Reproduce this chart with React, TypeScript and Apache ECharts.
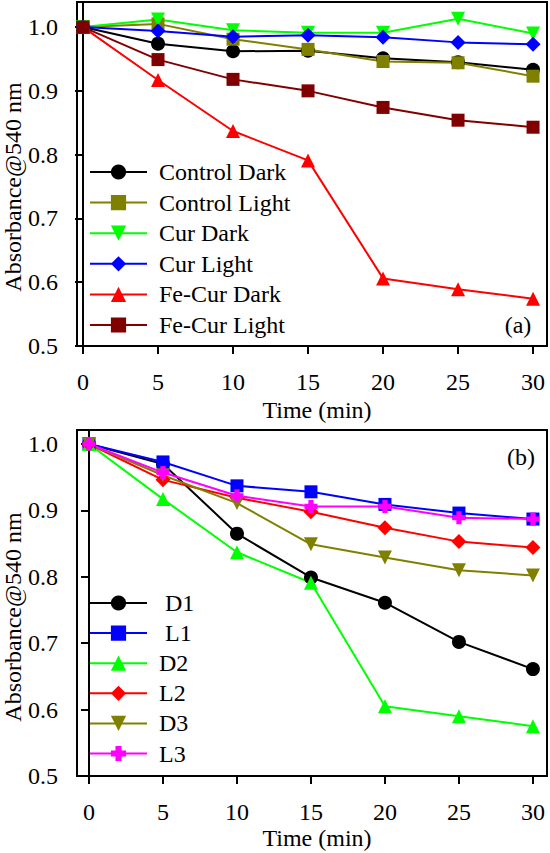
import React, { useEffect, useRef } from "react";
import * as echarts from "echarts";

const times = [0, 5, 10, 15, 20, 25, 30];
const xTicks = [0, 5, 10, 15, 20, 25, 30];
const yTicks = [0.5, 0.6, 0.7, 0.8, 0.9, 1.0];

// Panel (a)
const controlDark = [1.0, 0.974, 0.962, 0.963, 0.951, 0.945, 0.933];
const controlLight = [1.0, 1.005, 0.981, 0.965, 0.946, 0.944, 0.923];
const curDark = [1.0, 1.012, 0.995, 0.991, 0.991, 1.013, 0.99];
const curLight = [1.0, 0.994, 0.985, 0.987, 0.984, 0.976, 0.973];
const feCurDark = [1.0, 0.917, 0.837, 0.791, 0.606, 0.589, 0.574];
const feCurLight = [1.0, 0.949, 0.918, 0.9, 0.874, 0.854, 0.843];

// Panel (b)
const d1 = [1.0, 0.97, 0.865, 0.799, 0.761, 0.702, 0.661];
const l1 = [1.0, 0.973, 0.937, 0.928, 0.909, 0.896, 0.887];
const d2 = [1.0, 0.917, 0.837, 0.791, 0.605, 0.59, 0.575];
const l2 = [1.0, 0.946, 0.919, 0.898, 0.874, 0.853, 0.844];
const d3 = [1.0, 0.953, 0.911, 0.849, 0.829, 0.81, 0.802];
const l3 = [1.0, 0.957, 0.922, 0.906, 0.906, 0.889, 0.887];

const FONT = "Liberation Serif";
const PLUS = "path://M3,0L7,0L7,3L10,3L10,7L7,7L7,10L3,10L3,7L0,7L0,3L3,3Z";

function mk(
  name: string,
  values: number[],
  color: string,
  symbol: string,
  size: number,
  idx: number,
  rotate = 0
) {
  return {
    type: "line",
    name,
    xAxisIndex: idx,
    yAxisIndex: idx,
    data: times.map((t, i) => [t, values[i]]),
    symbol,
    symbolSize: size,
    symbolRotate: rotate,
    showSymbol: true,
    lineStyle: { color, width: 2 },
    itemStyle: { color },
    emphasis: { disabled: true },
  };
}

function xAxis(idx: number, min: number, max: number) {
  return {
    type: "value",
    gridIndex: idx,
    min,
    max,
    axisLine: { show: true, lineStyle: { color: "#000", width: 2 } },
    axisTick: { show: true, length: 8, lineStyle: { color: "#000", width: 2 }, customValues: xTicks },
    axisLabel: { fontFamily: FONT, fontSize: 24, color: "#000", margin: 24, customValues: xTicks },
    splitLine: { show: false },
  };
}

function yAxis(idx: number, min: number, max: number) {
  return {
    type: "value",
    gridIndex: idx,
    min,
    max,
    axisLine: { show: true, lineStyle: { color: "#000", width: 2 } },
    axisTick: { show: true, length: 8, lineStyle: { color: "#000", width: 2 }, customValues: yTicks },
    axisLabel: {
      fontFamily: FONT,
      fontSize: 24,
      color: "#000",
      margin: 19,
      customValues: yTicks,
      formatter: (v: number) => v.toFixed(1),
    },
    splitLine: { show: false },
  };
}

function legend(top: number, names: string[], gap: number) {
  return {
    orient: "vertical",
    left: 89,
    top,
    padding: 0,
    itemWidth: 57,
    itemHeight: 19,
    itemGap: gap,
    data: names,
    textStyle: { fontFamily: FONT, fontSize: 24, color: "#000", lineHeight: 24, padding: [0, 0, 0, 7] },
    selectedMode: false,
  };
}

function txt(text: string, x: number, y: number, rot = 0) {
  return {
    type: "text",
    x,
    y,
    rotation: rot,
    silent: true,
    style: {
      text,
      font: `24px "${FONT}"`,
      fill: "#000",
      textAlign: "center",
      textVerticalAlign: "middle",
    },
  };
}

export default function App() {
  const ref = useRef<HTMLDivElement>(null);
  useEffect(() => {
    if (!ref.current) return;
    const chart = echarts.init(ref.current, null, { renderer: "svg" });
    const topNames = ["Control Dark", "Control Light", "Cur Dark", "Cur Light", "Fe-Cur Dark", "Fe-Cur Light"];
    const botNames = [" D1", " L1", "D2", "L2", "D3", "L3"];
    chart.setOption({
      animation: false,
      backgroundColor: "#fff",
      grid: [
        { left: 77, top: 2, width: 470, height: 344, show: true, borderColor: "#000", borderWidth: 2, backgroundColor: "transparent" },
        { left: 77, top: 430, width: 470, height: 346, show: true, borderColor: "#000", borderWidth: 2, backgroundColor: "transparent" },
      ],
      xAxis: [xAxis(0, -0.4, 30.93), xAxis(1, -0.81, 30.95)],
      yAxis: [yAxis(0, 0.5, 1.0393), yAxis(1, 0.5, 1.0211)],
      legend: [legend(160, topNames, 6.6), legend(591, botNames, 6.1)],
      series: [
        mk(topNames[0], controlDark, "#000000", "circle", 14, 0),
        mk(topNames[1], controlLight, "#808000", "rect", 13, 0),
        mk(topNames[2], curDark, "#00ff00", "triangle", 14, 0, 180),
        mk(topNames[3], curLight, "#0000ff", "diamond", 15, 0),
        mk(topNames[4], feCurDark, "#ff0000", "triangle", 14, 0),
        mk(topNames[5], feCurLight, "#800000", "rect", 13, 0),
        mk(botNames[0], d1, "#000000", "circle", 14, 1),
        mk(botNames[1], l1, "#0000ff", "rect", 13, 1),
        mk(botNames[2], d2, "#00ff00", "triangle", 14, 1),
        mk(botNames[3], l2, "#ff0000", "diamond", 15, 1),
        mk(botNames[4], d3, "#808000", "triangle", 14, 1, 180),
        mk(botNames[5], l3, "#ff00ff", PLUS, 13, 1),
      ],
      graphic: [
        txt("Absorbance@540 nm", 13, 187, Math.PI / 2),
        txt("Absorbance@540 nm", 13, 617, Math.PI / 2),
        txt("Time (min)", 317, 410),
        txt("Time (min)", 317, 838),
        txt("(a)", 518, 325),
        txt("(b)", 521, 457),
      ],
    });
    return () => chart.dispose();
  }, []);
  return (
    <div
      ref={ref}
      style={{ position: "absolute", left: 0, top: 0, width: 550, height: 853 }}
    />
  );
}
